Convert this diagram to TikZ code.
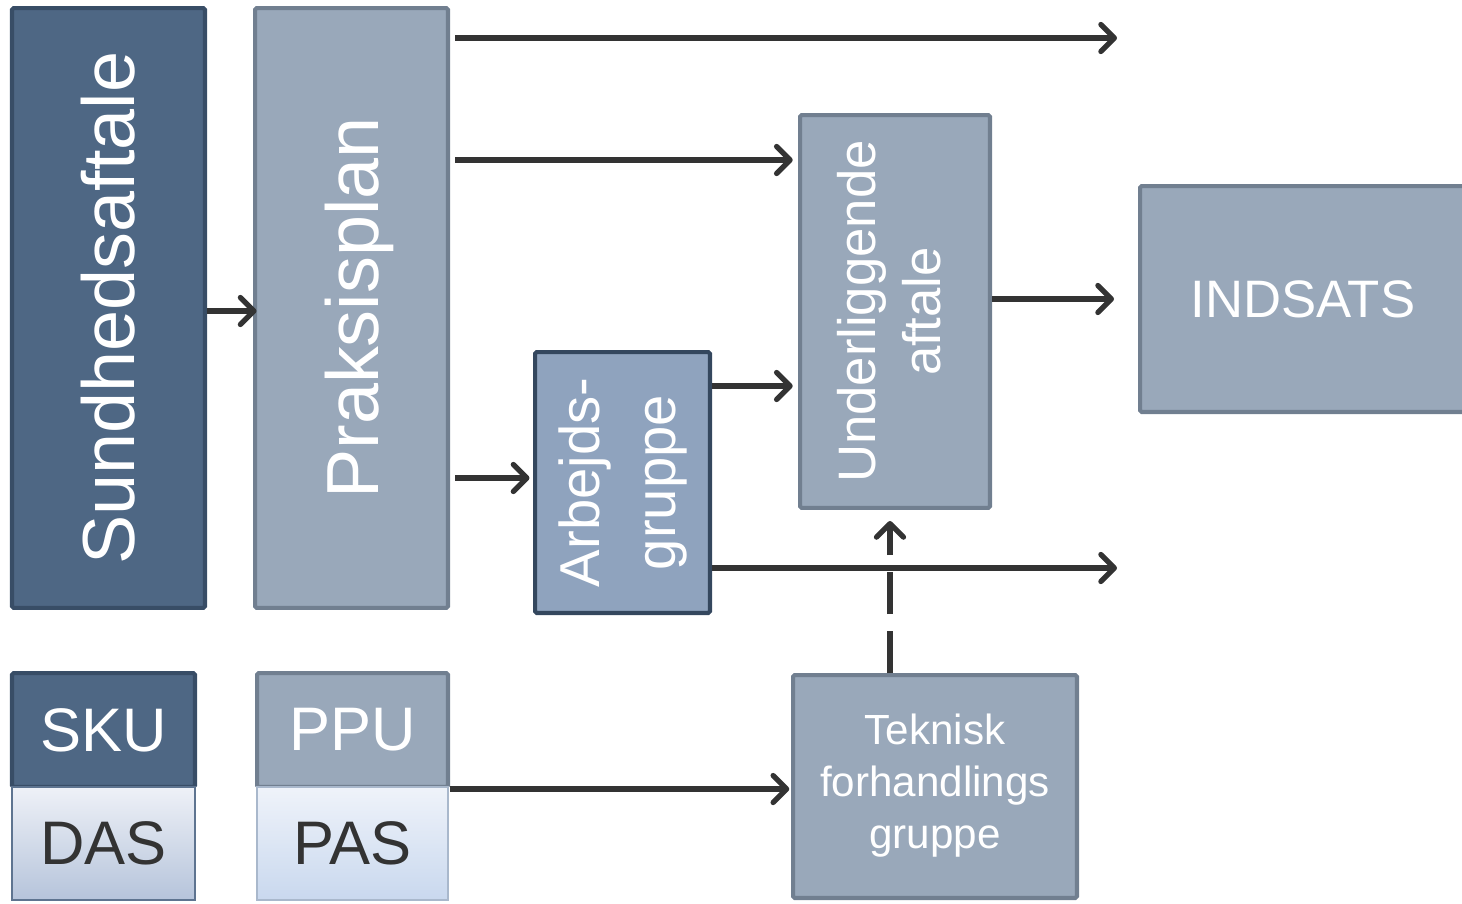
\documentclass[tikz,border=0pt]{standalone}
\usepackage{fontspec}
\setmainfont{Liberation Sans}
\usetikzlibrary{arrows.meta}

\definecolor{darkfill}{HTML}{4E6784}
\definecolor{darkline}{HTML}{384D66}
\definecolor{lightfill}{HTML}{99A8BA}
\definecolor{lightline}{HTML}{717F90}
\definecolor{arbfill}{HTML}{8FA3BE}
\definecolor{arbline}{HTML}{34475E}
\definecolor{dastop}{HTML}{EEF1F7}
\definecolor{dasbot}{HTML}{B6C4DB}
\definecolor{dasline}{HTML}{5E7490}
\definecolor{pastop}{HTML}{EFF3FA}
\definecolor{pasbot}{HTML}{C9D8EE}
\definecolor{pasline}{HTML}{A9B8CC}
\definecolor{arrowgray}{HTML}{333333}

\tikzset{
  darkbox/.style={draw=darkline,fill=darkfill,line width=2.3pt,rounded corners=1pt,text=white,inner sep=0pt},
  lightbox/.style={draw=lightline,fill=lightfill,line width=2.3pt,rounded corners=1pt,text=white,inner sep=0pt},
  arrow/.style={draw=arrowgray,line width=3pt,-{Straight Barb[length=0.27cm,width=0.54cm,line cap=round,line join=round]}}
}

\begin{document}
\begin{tikzpicture}[x=0.02cm,y=-0.02cm]
\useasboundingbox (0,0) rectangle (1462,903);

\node[darkbox,minimum width=3.86cm,minimum height=12cm] (sund) at (108.5,308)
  {\fontsize{42}{50}\selectfont\rotatebox{90}{Sundhedsaftale}};
\node[lightbox,minimum width=3.86cm,minimum height=12cm] (praksis) at (351.5,308)
  {\hspace*{0.3cm}\fontsize{42}{50}\selectfont\rotatebox{90}{Praksisplan}};
\node[darkbox,draw=arbline,fill=arbfill,minimum width=3.5cm,minimum height=5.22cm] (arb) at (622.5,482.5)
  {\fontsize{32}{43}\selectfont\rotatebox{90}{\begin{tabular}{@{}c@{}}Arbejds-\\gruppe\end{tabular}}};
\node[lightbox,minimum width=3.8cm,minimum height=7.86cm] (under) at (895,311.5)
  {\fontsize{30}{37}\selectfont\rotatebox{90}{\begin{tabular}{@{}c@{}}Underliggende\\aftale\end{tabular}}};
\node[lightbox,minimum width=6.52cm,minimum height=4.52cm] (indsats) at (1303,299)
  {\fontsize{30}{36}\selectfont INDSATS};
\node[lightbox,minimum width=5.68cm,minimum height=4.46cm] (tek) at (935,786.5)
  {\fontsize{24}{29.6}\selectfont\begin{tabular}{@{}c@{}}Teknisk\\forhandlings\\gruppe\end{tabular}};

\node[darkbox,minimum width=3.66cm,minimum height=2.28cm] (sku) at (103.5,730)
  {\fontsize{35}{42}\selectfont SKU};
\node[draw=dasline,line width=1.2pt,top color=dastop,bottom color=dasbot,text=arrowgray,inner sep=0pt,
  minimum width=3.66cm,minimum height=2.26cm] (das) at (103.5,843.5)
  {\fontsize{35}{42}\selectfont DAS};
\node[lightbox,minimum width=3.82cm,minimum height=2.28cm] (ppu) at (352.5,730)
  {\fontsize{35}{42}\selectfont PPU};
\node[draw=pasline,line width=1.2pt,top color=pastop,bottom color=pasbot,text=arrowgray,inner sep=0pt,
  minimum width=3.82cm,minimum height=2.26cm] (pas) at (352.5,843.5)
  {\fontsize{35}{42}\selectfont PAS};

\coordinate (top) at (1117,38);
\coordinate (low) at (1117,568);

\draw[arrow] (sund.east |- 0,311) -- ([xshift=2pt]praksis.west |- 0,311);
\draw[arrow] ([xshift=3pt]praksis.east |- top) -- (top);
\draw[arrow] ([xshift=3pt]praksis.east |- 0,160) -- ([xshift=-3pt]under.west |- 0,160);
\draw[arrow] ([xshift=3pt]praksis.east |- 0,478) -- ([xshift=-2pt]arb.west |- 0,478);
\draw[arrow] (arb.east |- 0,386) -- ([xshift=-3pt]under.west |- 0,386);
\draw[arrow] (arb.east |- low) -- (low);
\draw[arrow,shorten >=0.48cm] (under.east |- indsats.west) -- (indsats.west);
\draw[arrow] (ppu.south east) -- ([xshift=-1pt]ppu.south east -| tek.west);
\draw[arrow,dash pattern=on 0.84cm off 0.34cm,shorten >=0.22cm] (tek.north -| 890,0) -- (under.south -| 890,0);

\end{tikzpicture}
\end{document}
